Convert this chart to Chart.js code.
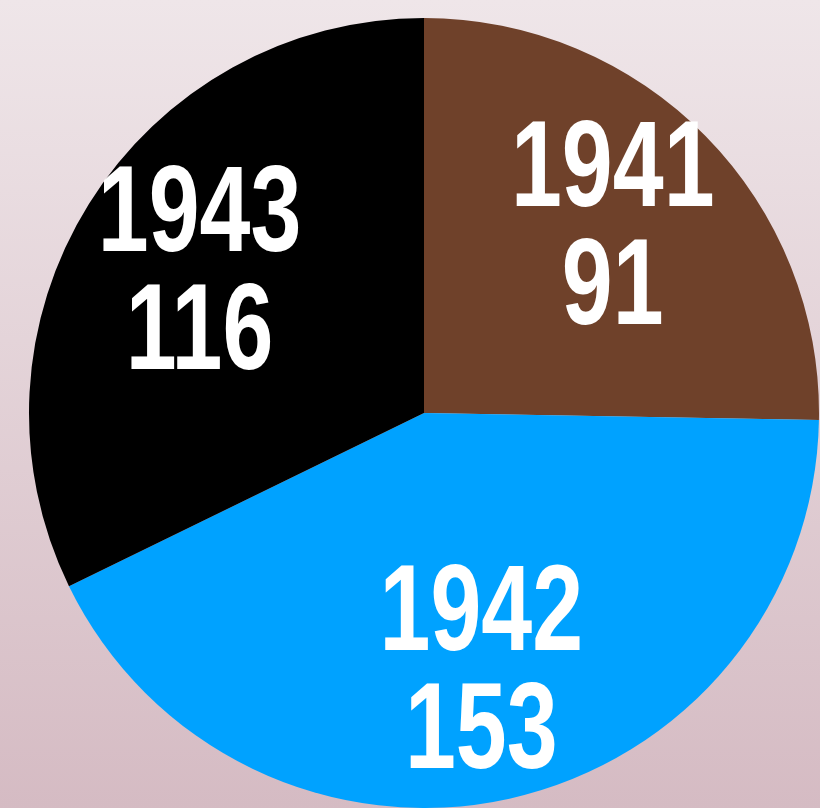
<!DOCTYPE html>
<html>
<head>
<meta charset="utf-8">
<script src="https://cdn.jsdelivr.net/npm/chart.js@4/dist/chart.umd.min.js"></script>
<style>
  html, body { margin: 0; padding: 0; }
  body {
    width: 820px; height: 808px; overflow: hidden;
    background: linear-gradient(to bottom, #efe6e9 0%, #d5bbc3 100%);
  }
  #grafico { display: block; }
</style>
</head>
<body>
<canvas id="grafico" width="820" height="808"></canvas>
<script>
// ── Datos ─────────────────────────────────────────────────────────────
const ANIOS   = ["1941", "1942", "1943"];
const VALORES = [91, 153, 116];
const COLORES = ["#6f412a", "#00a2ff", "#000000"];

// Etiquetas de dos líneas (año + valor) dentro de cada porción
const etiquetasPorcion = {
  id: "etiquetasPorcion",
  afterDatasetsDraw(chart) {
    const ctx = chart.ctx;
    const meta = chart.getDatasetMeta(0);
    ctx.save();
    ctx.fillStyle = "#ffffff";
    ctx.font = "bold 122px 'Liberation Sans', Arial, sans-serif";
    ctx.textAlign = "center";
    ctx.textBaseline = "middle";
    meta.data.forEach((arc, i) => {
      const p = arc.getProps(["x", "y", "startAngle", "endAngle", "outerRadius"], true);
      const medio = (p.startAngle + p.endAngle) / 2;
      const r = p.outerRadius * 0.67;
      const cx = p.x + Math.cos(medio) * r;
      const cy = p.y + Math.sin(medio) * r;
      const lineas = [ANIOS[i], String(VALORES[i])];
      lineas.forEach((txt, k) => {
        ctx.save();
        ctx.translate(cx, cy + (k - 0.5) * 118);
        ctx.scale(0.75, 1);
        ctx.fillText(txt, 0, 4);
        ctx.restore();
      });
    });
    ctx.restore();
  },
};

new Chart(document.getElementById("grafico"), {
  type: "pie",
  data: {
    labels: ANIOS,
    datasets: [{ data: VALORES, backgroundColor: COLORES, borderWidth: 0 }],
  },
  options: {
    responsive: false,
    animation: false,
    layout: { padding: { top: 18, bottom: 0, left: 29, right: 1 } },
    plugins: { legend: { display: false }, tooltip: { enabled: false } },
  },
  plugins: [etiquetasPorcion],
});
</script>
</body>
</html>
